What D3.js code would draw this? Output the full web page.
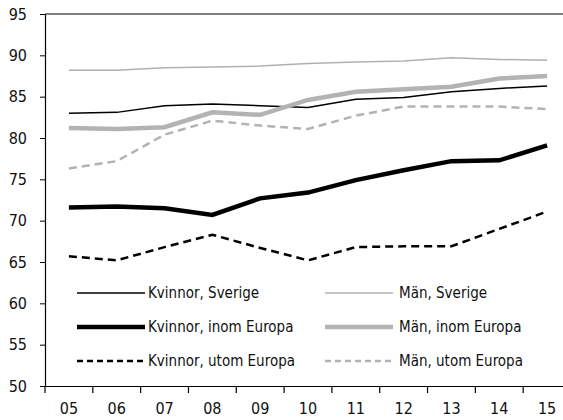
<!DOCTYPE html>
<html>
<head>
<meta charset="utf-8">
<script src="https://cdn.jsdelivr.net/npm/d3@7"></script>
<style>
  body { margin: 0; background: #fff; }
  svg text { font-family: "Liberation Sans Narrow", "DejaVu Sans Condensed", "Roboto", sans-serif; fill: #111; }
</style>
</head>
<body>
<div id="chart"></div>
<script>
// data
var years = ["05", "06", "07", "08", "09", "10", "11", "12", "13", "14", "15"];
var kvinnorSverige = [83.0, 83.1, 83.9, 84.1, 83.9, 83.7, 84.7, 84.9, 85.6, 86.0, 86.3];
var manSverige     = [88.2, 88.2, 88.5, 88.6, 88.7, 89.0, 89.2, 89.3, 89.7, 89.5, 89.4];
var kvinnorInom    = [71.6, 71.7, 71.5, 70.7, 72.7, 73.4, 74.9, 76.1, 77.2, 77.3, 79.1];
var manInom        = [81.2, 81.1, 81.3, 83.1, 82.8, 84.6, 85.6, 85.9, 86.2, 87.2, 87.5];
var kvinnorUtom    = [65.7, 65.2, 66.8, 68.3, 66.7, 65.2, 66.8, 66.9, 66.9, 69.0, 71.1];
var manUtom        = [76.3, 77.2, 80.4, 82.1, 81.5, 81.1, 82.7, 83.8, 83.8, 83.8, 83.5];
var yTicks = [50, 55, 60, 65, 70, 75, 80, 85, 90, 95];

var series = [
  {name: "Kvinnor, Sverige",      values: kvinnorSverige, color: "#000",    width: 1.5, dash: null},
  {name: "Män, Sverige",          values: manSverige,     color: "#b0b0b0", width: 1.5, dash: null},
  {name: "Kvinnor, inom Europa",  values: kvinnorInom,    color: "#000",    width: 4.5, dash: null},
  {name: "Män, inom Europa",      values: manInom,        color: "#b3b3b3", width: 4.5, dash: null},
  {name: "Kvinnor, utom Europa",  values: kvinnorUtom,    color: "#000",    width: 2.5, dash: "8,5"},
  {name: "Män, utom Europa",      values: manUtom,        color: "#b3b3b3", width: 2.5, dash: "8,5"}
];

var width = 563, height = 420;
var margin = {top: 14, left: 45, bottom: 34};
var plotRight = 571;   // frame runs past the picture edge

var svg = d3.select("#chart").append("svg")
    .attr("width", width)
    .attr("height", height);

var xScale = d3.scaleBand().domain(years).range([margin.left, plotRight]);
var yScale = d3.scaleLinear().domain([50, 95]).range([height - margin.bottom, margin.top]);

// top frame line
svg.append("line")
    .attr("x1", margin.left).attr("x2", plotRight)
    .attr("y1", yScale(95)).attr("y2", yScale(95))
    .attr("stroke", "#000").attr("stroke-width", 1.2);

// y axis
var yAxis = svg.append("g")
    .attr("transform", "translate(" + margin.left + ",0)")
    .call(d3.axisLeft(yScale).tickValues(yTicks).tickSize(5).tickPadding(13));
yAxis.select(".domain").attr("stroke-width", 1.2);
yAxis.selectAll("text").style("font-size", "16px");

// x axis: ticks sit between the years
var xAxis = svg.append("g")
    .attr("transform", "translate(0," + yScale(50) + ")")
    .call(d3.axisBottom(xScale).tickSize(0).tickPadding(17));
xAxis.select(".domain").attr("stroke-width", 1.2);
xAxis.selectAll("text").style("font-size", "16px");
xAxis.selectAll(".sep")
    .data(years)
    .enter().append("line")
    .attr("class", "sep")
    .attr("x1", function(d) { return xScale(d); })
    .attr("x2", function(d) { return xScale(d); })
    .attr("y1", 0).attr("y2", 7)
    .attr("stroke", "#000").attr("stroke-width", 1.2);

var line = d3.line()
    .x(function(d, i) { return xScale(years[i]) + xScale.bandwidth() / 2; })
    .y(function(d) { return yScale(d); });

svg.selectAll(".series")
    .data(series)
    .enter().append("path")
    .attr("class", "series")
    .attr("fill", "none")
    .attr("stroke", function(d) { return d.color; })
    .attr("stroke-width", function(d) { return d.width; })
    .attr("stroke-dasharray", function(d) { return d.dash; })
    .attr("d", function(d) { return line(d.values); });

// legend, two columns
var legend = svg.selectAll(".legend")
    .data(series)
    .enter().append("g")
    .attr("class", "legend")
    .attr("transform", function(d, i) {
        var col = i % 2, row = Math.floor(i / 2);
        return "translate(" + (col ? 325 : 77) + "," + (293 + row * 34) + ")";
    });

legend.append("line")
    .attr("x1", 0).attr("x2", 68)
    .attr("stroke", function(d) { return d.color; })
    .attr("stroke-width", function(d) { return d.width; })
    .attr("stroke-dasharray", function(d) { return d.dash ? "6,4" : null; });

legend.append("text")
    .attr("x", function(d, i) { return i % 2 ? 74 : 71; })
    .attr("dy", "0.35em")
    .style("font-size", "15px")
    .text(function(d) { return d.name; });
</script>
</body>
</html>
